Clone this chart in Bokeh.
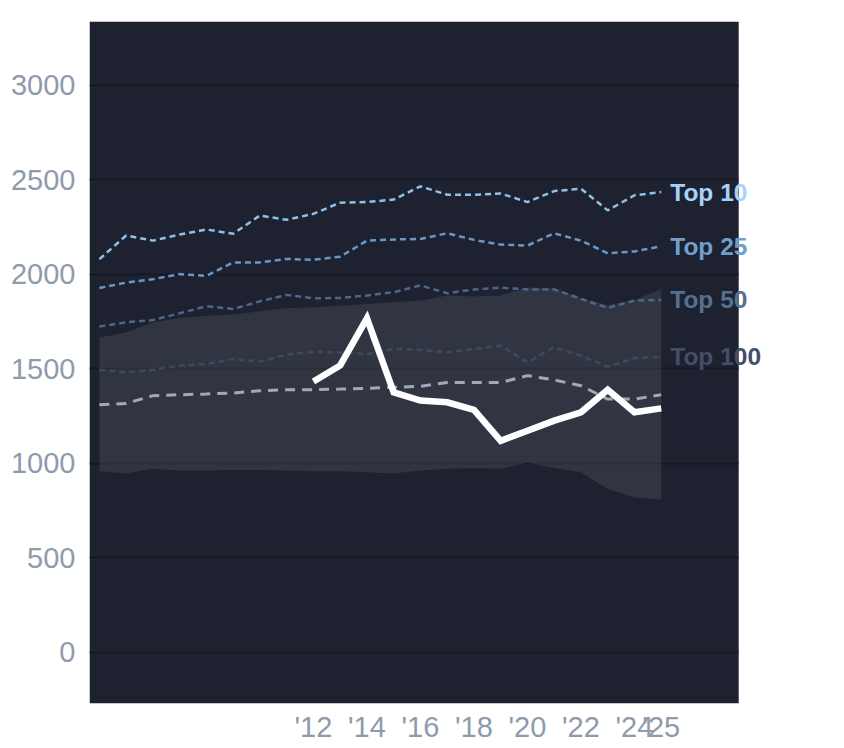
from bokeh.plotting import figure
from bokeh.models import FixedTicker, Label, Range1d, BoxAnnotation
from bokeh.embed import file_html
from bokeh.resources import INLINE

years = list(range(2004, 2026))
top10 = [2080, 2205, 2178, 2210, 2237, 2214, 2311, 2288, 2320, 2379, 2382, 2395, 2465, 2421, 2421, 2427, 2382, 2440, 2453, 2338, 2418, 2435]
top25 = [1927, 1956, 1974, 2001, 1992, 2063, 2063, 2081, 2077, 2093, 2178, 2184, 2187, 2217, 2182, 2157, 2152, 2217, 2178, 2111, 2121, 2148]
top50 = [1724, 1746, 1758, 1794, 1831, 1817, 1857, 1891, 1873, 1875, 1888, 1905, 1941, 1900, 1920, 1929, 1920, 1920, 1870, 1822, 1861, 1865]
top100 = [1495, 1481, 1495, 1516, 1525, 1552, 1539, 1575, 1591, 1587, 1578, 1605, 1600, 1587, 1605, 1623, 1534, 1614, 1569, 1511, 1557, 1564]
median = [1310, 1317, 1358, 1363, 1367, 1372, 1384, 1390, 1390, 1393, 1397, 1402, 1408, 1428, 1428, 1428, 1464, 1441, 1411, 1340, 1340, 1363]
band_high = [1666, 1692, 1746, 1769, 1781, 1787, 1804, 1822, 1825, 1834, 1843, 1852, 1861, 1888, 1882, 1888, 1930, 1927, 1874, 1837, 1864, 1922]
band_low = [958, 947, 971, 962, 962, 965, 965, 962, 958, 958, 953, 947, 962, 971, 974, 971, 1003, 976, 953, 864, 820, 808]
main_years = list(range(2012, 2026))
main = [1433, 1518, 1767, 1376, 1332, 1323, 1283, 1119, 1173, 1226, 1270, 1389, 1270, 1291]

x_ticks = [2012, 2014, 2016, 2018, 2020, 2022, 2024, 2025]
x_tick_labels = ["'12", "'14", "'16", "'18", "'20", "'22", "'24", "'25"]
y_ticks = [0, 500, 1000, 1500, 2000, 2500, 3000]

series_labels = ["Top 10", "Top 25", "Top 50", "Top 100"]
series = [top10, top25, top50, top100]
line_colors = ["#8fc2ea", "#6a98c6", "#4d6788", "#3b4a62"]
label_colors = ["#a6d3f7", "#6f9fcc", "#56708f", "#424f66"]

FONT = "Liberation Sans"
BG = "#1d2130"
X_VISIBLE_END = 2027.9

p = figure(width=840, height=748, output_backend="svg", toolbar_location=None,
           x_range=Range1d(2003.63, 2031.70), y_range=Range1d(-270, 3337),
           min_border_left=89, min_border_right=0, min_border_top=21, min_border_bottom=45)
p.background_fill_color = "white"
p.border_fill_color = "white"
p.outline_line_color = None

# dark plotting area (below the grid), ending where the labels start to overhang
p.add_layout(BoxAnnotation(right=X_VISIBLE_END, fill_color=BG, fill_alpha=1.0,
                           line_color=None, level="image"))

p.varea(x=years, y1=band_low, y2=band_high, fill_color="#ffffff", fill_alpha=0.09)

for vals, col in zip(series[::-1], line_colors[::-1]):
    p.line(years, vals, line_color=col, line_width=2.5, line_dash="6 4")

p.line(years, median, line_color="#a3a9b4", line_width=3, line_dash="10 7")
p.line(main_years, main, line_color="white", line_width=6.5, line_join="miter")

# hide grid lines beyond the dark area
p.add_layout(BoxAnnotation(left=X_VISIBLE_END, fill_color="white", fill_alpha=1.0,
                           line_color=None))

for name, vals, col in zip(series_labels, series, label_colors):
    p.add_layout(Label(x=years[-1], y=vals[-1], x_offset=9, text=name,
                       text_baseline="middle", text_align="left",
                       text_font=FONT, text_font_size="24.5px",
                       text_font_style="bold", text_color=col))

p.xgrid.grid_line_color = None
p.ygrid.ticker = FixedTicker(ticks=y_ticks)
p.ygrid.grid_line_color = "#171a24"
p.ygrid.grid_line_width = 2

p.xaxis.ticker = FixedTicker(ticks=x_ticks)
p.xaxis.major_label_overrides = {t: l for t, l in zip(x_ticks, x_tick_labels)}
p.yaxis.ticker = FixedTicker(ticks=y_ticks)

for ax in (p.xaxis, p.yaxis):
    ax.axis_line_color = None
    ax.major_tick_line_color = None
    ax.minor_tick_line_color = None
    ax.major_tick_out = 0
    ax.major_tick_in = 0
    ax.major_label_text_font = FONT
    ax.major_label_text_font_size = "29px"
    ax.major_label_text_color = "#8f9aab"
p.yaxis.major_label_standoff = 14
p.xaxis.major_label_standoff = 7

open("out.html", "w").write(file_html(p, INLINE))
